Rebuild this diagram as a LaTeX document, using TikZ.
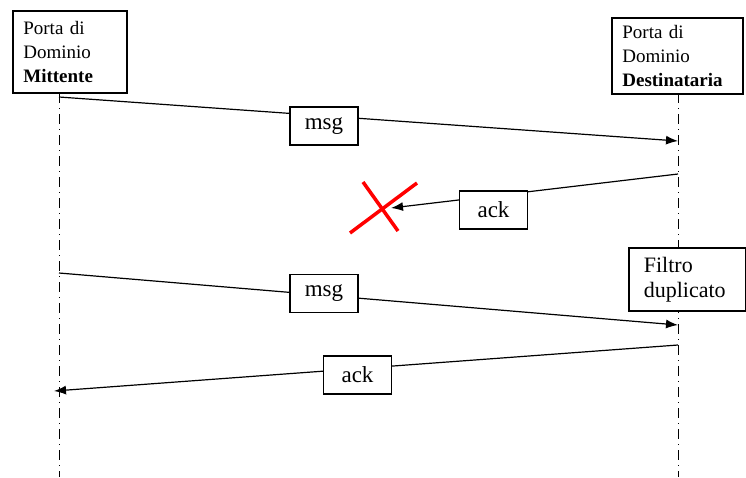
\documentclass[tikz,border=0pt]{standalone}
\usepackage{fontspec}
\setmainfont{Liberation Serif}
\usetikzlibrary{arrows.meta}

\begin{document}
\begin{tikzpicture}[x=1pt, y=-1pt, >={Latex[length=12pt, width=9pt]}]
  % --- STYLE DEFINITIONS ---
  \tikzstyle{portbox}=[draw, line width=1.7pt, fill=white, align=left, inner xsep=10.5pt, inner ysep=0pt, anchor=north west, font=\fontsize{19}{24}\selectfont]
  \tikzstyle{filterbox}=[draw, line width=1.7pt, fill=white, align=left, inner xsep=15pt, inner ysep=0pt, anchor=north west, font=\fontsize{22}{25}\selectfont]
  \tikzstyle{lblbox}=[draw, line width=1.6pt, fill=white, minimum width=68pt, minimum height=38pt, inner sep=0pt, font=\fontsize{23}{25}\selectfont]
  \tikzstyle{lifeline}=[line width=0.8pt, dash pattern=on 10pt off 5pt on 1pt off 5pt]
  \tikzstyle{msgline}=[line width=1.2pt]
  \tikzstyle{lost}=[red, line width=3.5pt]

  \useasboundingbox (0,0) rectangle (746,477);

  % =================================================================
  % THE TWO DOMAIN PORTS AND THEIR LIFELINES
  % =================================================================
  \coordinate (mittTop) at (59,93);
  \coordinate (mittBot) at (59,477);
  \coordinate (destTop) at (678,93);
  \coordinate (destBot) at (678,477);
  \draw[lifeline] (mittTop) -- (mittBot);
  \draw[lifeline] (destTop) -- (destBot);

  \node[portbox, minimum width=114pt, minimum height=82pt, text width=93pt] (mitt) at (12,10)
    {Porta di\\Dominio\\\textbf{Mittente}\\[-3pt]};
  \node[portbox, minimum width=131pt, minimum height=76pt, text width=110pt] (dest) at (611,17)
    {Porta di\\Dominio\\\textbf{Destinataria}};

  % =================================================================
  % FIRST MESSAGE AND LOST ACK
  % =================================================================
  \coordinate (m1s) at (59,97);
  \coordinate (m1e) at (678,141);
  \draw[msgline, ->] (m1s) -- (m1e);
  \node[lblbox] (msgA) at (324,126) {msg};

  \coordinate (a1s) at (678,174);
  \coordinate (a1e) at (391,208);
  \draw[msgline, ->] (a1s) -- (a1e);
  \node[lblbox] (ackA) at (493.5,210) {ack};

  % red cross: the ack gets lost
  \coordinate (xa) at (350,233);
  \coordinate (xb) at (417,183);
  \coordinate (xc) at (363,182);
  \coordinate (xd) at (398,231);
  \draw[lost] (xa) -- (xb);
  \draw[lost] (xc) -- (xd);

  % =================================================================
  % RETRANSMISSION, DUPLICATE FILTER AND ACK
  % =================================================================
  \node[filterbox, minimum width=117pt, minimum height=63pt, text width=87pt] (filtro) at (628,247)
    {Filtro\\duplicato};

  \coordinate (m2s) at (59,273);
  \coordinate (m2e) at (678,325);
  \draw[msgline, ->] (m2s) -- (m2e);
  \node[lblbox] (msgB) at (324,293.5) {msg};

  \coordinate (a2s) at (678,345);
  \coordinate (a2e) at (54,391);
  \draw[msgline, ->] (a2s) -- (a2e);
  \node[lblbox] (ackB) at (357.5,375) {ack};

\end{tikzpicture}
\end{document}
